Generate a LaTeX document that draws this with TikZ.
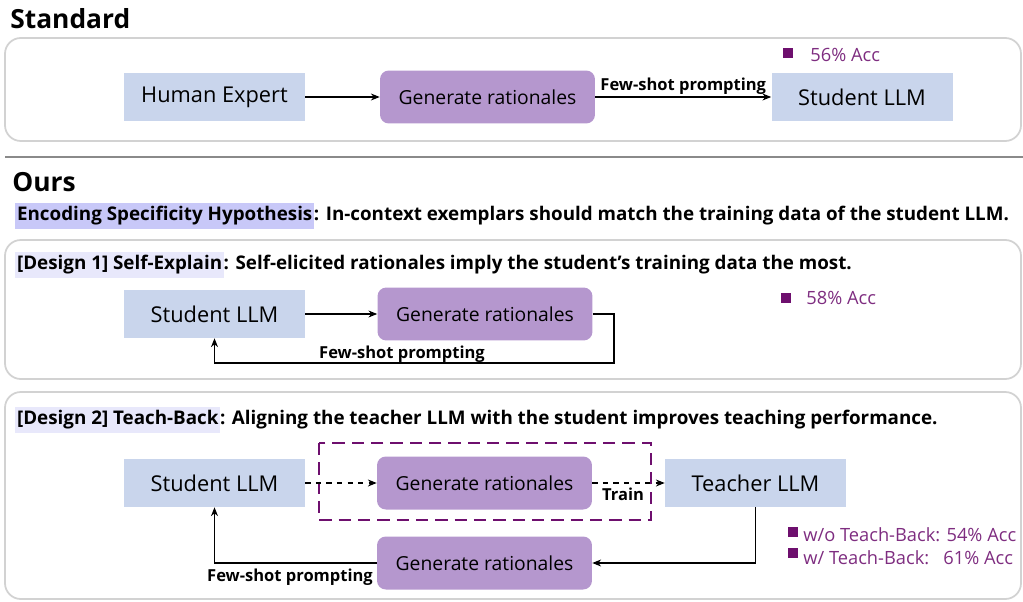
\documentclass[tikz,border=0pt]{standalone}
\usepackage{fontspec}
\setmainfont{Open Sans}
\usetikzlibrary{arrows.meta}
\definecolor{llmblue}{HTML}{C9D5EC}
\definecolor{genpurple}{HTML}{B597CE}
\definecolor{accpurple}{HTML}{6E0F6E}
\definecolor{acctext}{HTML}{7E2D80}
\definecolor{panelgray}{HTML}{D2D2D2}
\definecolor{sepgray}{HTML}{8A8A8A}
\definecolor{hypblue}{HTML}{C8C8F8}
\definecolor{designblue}{HTML}{E8E8FB}

\tikzset{
  llm/.style={fill=llmblue, minimum width=3.62cm, minimum height=0.96cm, inner sep=0pt, font=\fontsize{12.4}{14}\selectfont},
  gen/.style={fill=genpurple, rounded corners=5pt, minimum width=4.3cm, minimum height=1.06cm, inner sep=0pt, font=\fontsize{11}{13}\selectfont},
  panel/.style={draw=panelgray, line width=1pt, rounded corners=9pt},
  title/.style={anchor=west, inner sep=0pt, font=\fontsize{15}{18}\selectfont\bfseries},
  head/.style={anchor=west, inner sep=1pt, font=\fontsize{10.7}{12}\selectfont\bfseries},
  marked/.style={head, inner ysep=2.2pt},
  edgelabel/.style={inner sep=1pt, font=\fontsize{9.4}{11}\selectfont\bfseries},
  accmark/.style={fill=accpurple, minimum size=0.2cm, inner sep=0pt},
  acc/.style={anchor=west, inner sep=0pt, text=acctext, font=\fontsize{10.4}{12}\selectfont},
  flow/.style={-{Stealth[length=5pt,width=4pt]}, line width=0.6pt},
  teachframe/.style={draw=accpurple, line width=1.6pt, dash pattern=on 7pt off 4pt},
}

\begin{document}
\begin{tikzpicture}[x=0.02cm, y=-0.02cm]
\useasboundingbox (0,0) rectangle (1023,601);

% Standard
\node (stdtitle) [title] at (10,19) {Standard};
\draw [panel] (5,38) rectangle (1021,141);
\node (expert) [llm] at (214.5,97) {Human Expert};
\node (gen0) [gen] at (487.5,97) {Generate rationales};
\node (stu0) [llm] at (862,97) {Student LLM};
\draw [flow] (expert) -- (gen0);
\draw [flow] (gen0) -- node [edgelabel, above] {Few-shot prompting} (stu0);
\node (sq0) [accmark] at (788,53.5) {};
\node (acc0) [acc] at (810,55) {56\% Acc};

\draw [line width=1.7pt, sepgray] (5,157) -- (1023,157);

% Ours
\node (ourstitle) [title] at (12,182) {Ours};
\node (hyp) [marked, fill=hypblue] at (15,216) {Encoding Specificity Hypothesis};
\node (hyptext) [head, anchor=base west, inner xsep=0pt] at ([xshift=-0.5pt]hyp.base east) {: In-context exemplars should match the training data of the student LLM.};

% Design 1
\draw [panel] (5,240) rectangle (1021,379);
\node (d1) [marked, fill=designblue] at (15,265) {[Design 1] Self-Explain};
\node (d1text) [head, anchor=base west, inner xsep=0pt] at ([xshift=-0.5pt]d1.base east) {: Self-elicited rationales imply the student’s training data the most.};
\node (stu1) [llm] at (214.5,314) {Student LLM};
\node (gen1) [gen] at (485,314) {Generate rationales};
\draw [flow] (stu1) -- (gen1);
\coordinate (loop1) at (614,363);
\draw [flow] (gen1.east) -| (loop1) -| (stu1.south);
\node (fs1) [edgelabel] at (402,354) {Few-shot prompting};
\node (sq1) [accmark] at (786,297.5) {};
\node (acc1) [acc] at (806,298) {58\% Acc};

% Design 2
\draw [panel] (5,392) rectangle (1021,599);
\node (d2) [marked, fill=designblue] at (15,420) {[Design 2] Teach-Back};
\node (d2text) [head, anchor=base west, inner xsep=0pt] at ([xshift=-0.5pt]d2.base east) {: Aligning the teacher LLM with the student improves teaching performance.};
\node (stu2) [llm] at (214.5,483) {Student LLM};
\node (gen2) [gen] at (484.5,483) {Generate rationales};
\node (tea2) [llm] at (755.5,483) {Teacher LLM};
\node (gen3) [gen] at (484.5,563) {Generate rationales};
\draw [teachframe] (319,443) rectangle (651,520);
\draw [flow, dashed] (stu2) -- (gen2);
\draw [flow, dashed] (gen2) -- (tea2);
\node (train) [edgelabel] at (623,494) {Train};
\draw [flow] (tea2.south) |- (gen3.east);
\draw [flow] (gen3.west) -| (stu2.south);
\node (fs2) [edgelabel] at (290,577) {Few-shot prompting};
\node (sq2) [accmark] at (792.5,531.5) {};
\node (acc2) [acc] at (803,535) {w/o Teach-Back: 54\% Acc};
\node (sq3) [accmark] at (792.5,552.5) {};
\node (acc3) [acc] at (803,558) {w/ Teach-Back:\ \ \ 61\% Acc};
\end{tikzpicture}
\end{document}
